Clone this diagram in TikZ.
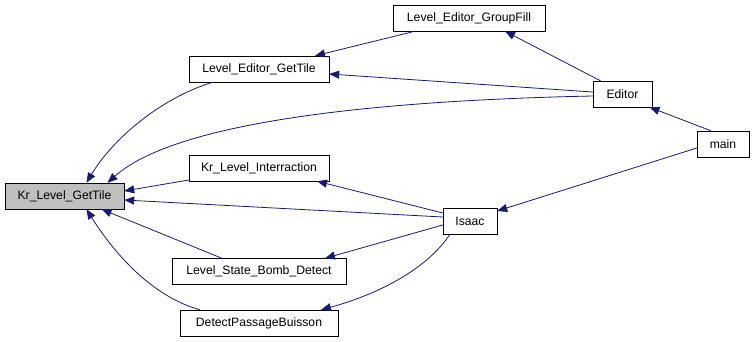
\documentclass[tikz,border=0pt]{standalone}
\usepackage{fontspec}
\setmainfont{Liberation Sans}
\usepackage{xcolor}
\usepackage{tikz}
\usetikzlibrary{arrows.meta,positioning}
\definecolor{callblue}{RGB}{25,25,112}
\definecolor{selgray}{RGB}{191,191,191}

\begin{document}
\begin{tikzpicture}[x=1pt, y=-1pt,
    fn/.style={draw=black, fill=white, rectangle, inner sep=0pt,
      minimum height=26pt, font=\fontsize{12.2}{14}\selectfont},
    call/.style={callblue, line width=0.8pt, -{Triangle[length=10pt,width=8pt]}}]
    \useasboundingbox (0,0) rectangle (753,341);
    % functions
    \node[fn, fill=selgray, minimum width=119pt] (kr) at (64.5,196) {Kr\_Level\_GetTile};
    \node[fn, minimum width=140pt] (edgettile) at (259,69) {Level\_Editor\_GetTile};
    \node[fn, minimum width=152pt] (groupfill) at (469,18) {Level\_Editor\_GroupFill};
    \node[fn, minimum width=59pt] (editor) at (622.5,94) {Editor};
    \node[fn, minimum width=52pt] (main) at (723,144) {main};
    \node[fn, minimum width=140pt] (interr) at (259,168) {Kr\_Level\_Interraction};
    \node[fn, minimum width=54pt] (isaac) at (470,221) {Isaac};
    \node[fn, minimum width=174pt] (bomb) at (259,271.5) {Level\_State\_Bomb\_Detect};
    \node[fn, minimum width=158pt] (buisson) at (259,323) {DetectPassageBuisson};
    % callers
    \draw[call] ([xshift=-54pt]groupfill.south) -- ([xshift=56pt]edgettile.north);
    \draw[call] ([xshift=-22pt]editor.north) -- ([xshift=36pt]groupfill.south);
    \draw[call] ([yshift=2pt]editor.west) -- ([yshift=-5pt]edgettile.east);
    \draw[call] ([yshift=-2pt]editor.west) .. controls (400,100) and (180,118) .. ([xshift=43pt]kr.north);
    \draw[call] ([xshift=-46pt]edgettile.south) .. controls (160,98) and (112,140) .. ([xshift=22pt]kr.north);
    \draw[call] ([xshift=-12pt]main.north) -- ([xshift=27pt]editor.south);
    \draw[call] ([yshift=-4pt]main.west) -- ([yshift=10pt]isaac.east);
    \draw[call] ([yshift=8pt]isaac.west) -- ([xshift=58pt]interr.south);
    \draw[call] ([yshift=4pt]isaac.west) -- ([yshift=-4pt]kr.east);
    \draw[call] ([yshift=-4pt]isaac.west) -- ([xshift=66pt]bomb.north);
    \draw[call] ([xshift=-20pt]isaac.south) .. controls (425,272) and (372,296) .. ([xshift=62pt]buisson.north);
    \draw[call] ([yshift=-12pt]interr.west) -- ([yshift=5pt]kr.east);
    \draw[call] ([xshift=-37pt]bomb.north) -- ([xshift=37pt]kr.south);
    \draw[call] ([xshift=-59pt]buisson.north) .. controls (150,296) and (112,250) .. ([xshift=22pt]kr.south);
\end{tikzpicture}
\end{document}
